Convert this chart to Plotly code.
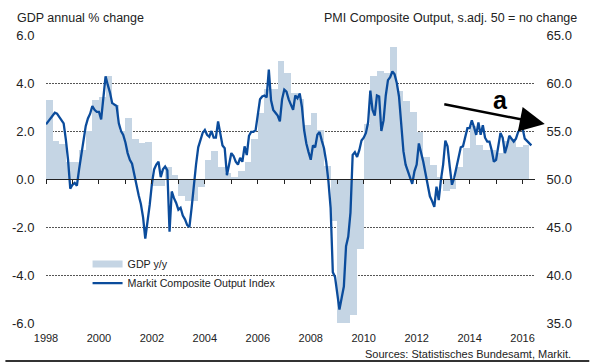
import plotly.graph_objects as go

# ---------------- data ----------------
start_year = 1998

# GDP y/y, quarterly, 1998Q1 .. 2016Q1 (%)
gdp_yy = [
    3.3, 1.6, 1.45, 0.7,      # 1998
    0.7, 1.2, 2.0, 3.3,       # 1999
    3.4, 4.3, 3.1, 2.0,       # 2000
    2.55, 1.65, 1.5, 1.55,    # 2001
    -0.3, -0.3, 0.5, 0.15,    # 2002
    -0.7, -0.9, -0.9, -0.35,  # 2003
    0.8, 1.15, 0.5, 0.25,     # 2004
    0.1, 0.35, 0.7, 1.65,     # 2005
    2.75, 3.75, 3.75, 4.9,    # 2006
    4.4, 3.6, 3.35, 2.25,     # 2007
    2.75, 2.05, 0.55, -1.75,  # 2008
    -6.5, -6.3, -5.65, -2.9,  # 2009
    2.3, 4.3, 4.5, 4.4,       # 2010
    5.5, 3.65, 3.25, 2.8,     # 2011
    1.95, 0.9, 0.6, 0.1,      # 2012
    -0.5, -0.4, 0.5, 1.3,     # 2013
    2.2, 1.4, 1.2, 1.2,       # 2014
    1.1, 1.6, 1.65, 1.35,     # 2015
    1.4,                      # 2016
]

# Markit Composite Output Index, monthly, Jan 1998 .. May 2016
pmi = [
    55.7, 56.0, 56.3, 56.7, 56.9, 56.8, 56.5, 56.2, 55.8, 54.1, 52.0, 49.0,  # 1998
    49.4, 49.6, 49.3, 51.0, 52.5, 54.0, 55.5, 56.3, 56.8, 57.6, 57.2, 57.0,  # 1999
    57.0, 56.2, 58.5, 60.7, 59.8, 59.0, 57.9, 57.7, 57.6, 55.8, 55.0, 54.6,  # 2000
    53.8, 52.7, 52.0, 51.6, 50.5, 49.2, 48.3, 47.4, 46.0, 43.8, 45.5, 47.3,  # 2001
    49.5, 51.0, 51.5, 51.8, 50.2, 51.0, 51.3, 50.9, 44.5, 48.7, 48.0, 47.5,  # 2002
    46.8, 47.0, 46.2, 45.8, 45.2, 45.0, 47.0, 49.5, 51.5, 53.3, 54.2, 54.8,  # 2003
    55.1, 54.6, 54.4, 55.0, 54.3, 54.3, 56.0, 54.8, 53.5, 53.2, 50.4, 51.5,  # 2004
    52.7, 52.4, 51.8, 51.5, 52.2, 51.8, 53.4, 52.5, 54.5, 54.9, 54.9, 55.1,  # 2005
    56.5, 58.3, 58.6, 58.7, 58.5, 61.4, 58.2, 57.2, 56.9, 56.6, 56.0, 58.3,  # 2006
    59.3, 59.1, 58.3, 57.7, 57.2, 58.7, 58.4, 58.9, 57.5, 55.1, 53.7, 52.8,  # 2007
    52.0, 53.5, 53.3, 54.6, 54.9, 54.0, 53.2, 51.8, 49.8, 47.0, 40.3, 39.8,  # 2008
    38.3, 36.4, 37.6, 38.8, 43.0, 44.0, 46.5, 52.5, 52.8, 52.3, 53.0, 54.0,  # 2009
    54.3, 54.8, 55.9, 59.2, 57.2, 56.6, 58.7, 58.6, 55.0, 56.1, 58.7, 60.3,  # 2010
    60.6, 61.2, 60.9, 60.0, 58.6, 56.0, 52.9, 51.5, 50.9, 50.3, 49.5, 50.8,  # 2011
    51.5, 53.7, 52.8, 51.8, 50.6, 49.3, 48.2, 47.7, 47.1, 49.2, 47.8, 49.9,  # 2012
    51.5, 54.0, 53.4, 51.3, 49.4, 50.1, 51.3, 52.5, 53.3, 53.4, 54.5, 55.3,  # 2013
    55.3, 56.1, 55.4, 54.6, 55.9, 54.6, 55.6, 54.3, 53.9, 53.9, 53.0, 51.8,  # 2014
    52.0, 53.3, 54.8, 54.3, 52.7, 53.5, 54.5, 54.2, 53.9, 54.2, 54.9, 55.2,  # 2015
    55.3, 54.2, 54.0, 53.8, 53.5,                                              # 2016
]

x_tick_years = list(range(1998, 2017, 2))
x_tick_labels = [str(y) for y in x_tick_years]
minor_years = list(range(1998, 2017))
left_ticks = [-6, -4, -2, 0, 2, 4, 6]
left_labels = ["-6.0", "-4.0", "-2.0", "0.0", "2.0", "4.0", "6.0"]
right_ticks = [35, 40, 45, 50, 55, 60, 65]
right_labels = ["35.0", "40.0", "45.0", "50.0", "55.0", "60.0", "65.0"]

# ---------------- styling ----------------
FONT = "Liberation Sans, Arial, sans-serif"
TXT = "#222222"
BAR_C = "#c5d5e4"
LINE_C = "#0b4c9c"
X_RANGE = [1998, 2016.47]

x_gdp = [start_year + (k + 0.5) / 4 for k in range(len(gdp_yy))]
x_pmi = [start_year + i / 12 for i in range(len(pmi))]

fig = go.Figure()
fig.add_trace(go.Bar(x=x_gdp, y=gdp_yy, width=0.25, marker=dict(color=BAR_C, line=dict(width=0)),
                     showlegend=False, hoverinfo="skip", xaxis="x", yaxis="y"))
fig.add_trace(go.Scatter(x=[None], y=[None], xaxis="x2", yaxis="y", showlegend=False,
                         hoverinfo="skip", mode="lines"))
fig.add_trace(go.Scatter(x=[None], y=[None], mode="lines", name="GDP y/y",
                         line=dict(color=BAR_C, width=7), xaxis="x", yaxis="y"))
fig.add_trace(go.Scatter(x=x_pmi, y=pmi, mode="lines", name="Markit Composite Output Index",
                         line=dict(color=LINE_C, width=2.3), xaxis="x", yaxis="y2"))

fig.update_layout(
    width=590, height=363,
    margin=dict(l=41, r=55, t=35, b=40),
    paper_bgcolor="white", plot_bgcolor="white",
    font=dict(family=FONT, color=TXT),
    bargap=0,
    xaxis=dict(range=X_RANGE, tickvals=x_tick_years, ticktext=x_tick_labels,
               ticks="outside", ticklen=5, tickcolor="rgba(0,0,0,0)",
               showgrid=False, showline=False, zeroline=False,
               tickfont=dict(size=11, family=FONT, color=TXT)),
    xaxis2=dict(range=X_RANGE, overlaying="x", anchor="free", position=0.5, side="bottom",
                tickvals=minor_years, ticks="outside", ticklen=4, tickcolor="#222222", tickwidth=1,
                showticklabels=False, showline=True, linecolor="#222222", linewidth=1.3,
                showgrid=False, zeroline=False),
    yaxis=dict(range=[-6, 6], tickvals=left_ticks, ticktext=left_labels,
               showgrid=True, gridcolor="#555555", gridwidth=1, griddash="2px,1px",
               zeroline=False, ticks="outside", ticklen=8, tickcolor="rgba(0,0,0,0)",
               tickfont=dict(size=13, family=FONT, color=TXT)),
    yaxis2=dict(range=[35, 65], overlaying="y", side="right", tickvals=right_ticks,
                ticktext=right_labels, showgrid=False, zeroline=False,
                ticks="outside", ticklen=8, tickcolor="rgba(0,0,0,0)",
                tickfont=dict(size=13, family=FONT, color=TXT)),
    legend=dict(x=0.085, y=0.255, xanchor="left", yanchor="top", bgcolor="rgba(0,0,0,0)",
                font=dict(size=10.7, family=FONT, color=TXT), traceorder="normal",
                itemclick=False),
    showlegend=True,
)

fig.add_annotation(text="GDP annual % change", xref="paper", yref="paper",
                   x=-0.0628, y=1.059, xanchor="left", yanchor="middle", showarrow=False,
                   font=dict(size=12.5, family=FONT, color=TXT))
fig.add_annotation(text="PMI Composite Output, s.adj. 50 = no change", xref="paper", yref="paper",
                   x=1.091, y=1.059, xanchor="right", yanchor="middle", showarrow=False,
                   font=dict(size=12.5, family=FONT, color=TXT))
fig.add_annotation(text="Sources: Statistisches Bundesamt, Markit.", xref="paper", yref="paper",
                   x=1.077, y=-0.108, xanchor="right", yanchor="middle", showarrow=False,
                   font=dict(size=11, family=FONT, color=TXT))
# trend arrow and label
fig.add_annotation(text="", xref="paper", yref="paper", x=1.02, y=0.691,
                   ax=-102, ay=-20, showarrow=True, arrowhead=2, arrowsize=2.0,
                   arrowwidth=2.5, arrowcolor="#000000", standoff=0, startstandoff=0)
fig.add_annotation(text="<b>a</b>", xref="paper", yref="paper", x=0.929, y=0.776,
                   xanchor="center", yanchor="middle", showarrow=False,
                   font=dict(size=25, family=FONT, color="#000000"))
# bottom rule
fig.add_shape(type="line", xref="paper", yref="paper", x0=-0.083, x1=1.111, y0=-0.132, y1=-0.132,
              line=dict(color="#333333", width=2))

fig.write_html("out.html", config={"displayModeBar": False},
               post_script="document.body.style.margin='0';document.body.style.overflow='hidden';")
